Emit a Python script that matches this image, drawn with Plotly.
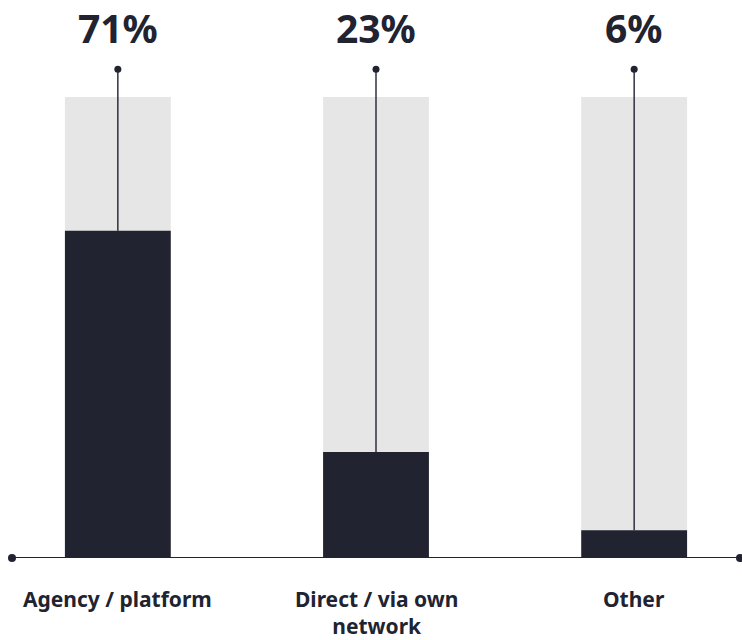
import plotly.graph_objects as go

# Share of respondents by channel
categories = ["Agency / platform", "Direct / via own<br>network", "Other"]
values = [71, 23, 6]
full_scale = [100, 100, 100]
value_labels = ["71%", "23%", "6%"]

dark = "#212330"
track = "#e6e6e6"
font_family = "Noto Sans"

xs = list(range(len(categories)))
bar_width = 0.41
pin_top = 106

fig = go.Figure()

# light background track for each bar
fig.add_trace(go.Bar(x=xs, y=full_scale, width=bar_width, marker=dict(color=track, line_width=0),
                     hoverinfo="skip", showlegend=False))
# actual values
fig.add_trace(go.Bar(x=xs, y=values, width=bar_width, marker=dict(color=dark, line_width=0),
                     showlegend=False))

# pin lines from label marker down to the bar top
for x, v in zip(xs, values):
    fig.add_trace(go.Scatter(x=[x, x], y=[pin_top, v], mode="lines",
                             line=dict(color=dark, width=1.4), showlegend=False, hoverinfo="skip"))
fig.add_trace(go.Scatter(x=xs, y=[pin_top] * len(xs), mode="markers",
                         marker=dict(color=dark, size=7), showlegend=False, hoverinfo="skip",
                         cliponaxis=False))

# baseline with end dots
x_lo, x_hi = -0.41, len(xs) - 1 + 0.41
fig.add_trace(go.Scatter(x=[x_lo, x_hi], y=[0, 0], mode="lines+markers",
                         line=dict(color=dark, width=2), marker=dict(color=dark, size=8),
                         showlegend=False, hoverinfo="skip", cliponaxis=False))

# value labels above each bar
for x, t in zip(xs, value_labels):
    fig.add_annotation(x=x, y=115, text=t, showarrow=False, xanchor="center", yanchor="middle",
                       font=dict(family=font_family, size=39, color=dark, weight="bold"))

# category labels under the baseline
for x, c in zip(xs, categories):
    fig.add_annotation(x=x, y=0, text=c, showarrow=False, xanchor="center", yanchor="top",
                       yshift=-25, font=dict(family=font_family, size=21, color=dark, weight="bold"))

fig.update_layout(
    width=742, height=640,
    margin=dict(l=12, r=2, t=14, b=82),
    paper_bgcolor="white", plot_bgcolor="white",
    barmode="overlay",
    xaxis=dict(range=[x_lo, x_hi], visible=False, fixedrange=True),
    yaxis=dict(range=[0, 118], visible=False, fixedrange=True),
)

fig.write_html("out.html")
